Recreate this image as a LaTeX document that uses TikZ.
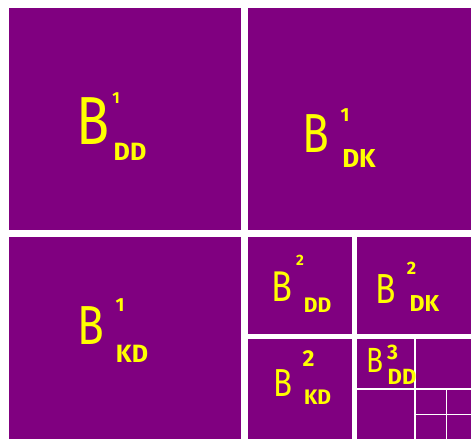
\documentclass[tikz,border=0pt]{standalone}
\usepackage{fontspec}
\usepackage{graphicx}
\setsansfont{Fira Sans}
\definecolor{cellpurple}{HTML}{800080}
\definecolor{chalk}{HTML}{FFFF00}
\newcommand{\fs}[1]{\fontsize{#1}{#1}\selectfont}
\newcommand{\bee}{\scalebox{0.8}[1]{B}}
\begin{document}
\begin{tikzpicture}[x=1pt, y=-1pt, line cap=butt,
	hand/.style={text=chalk, inner sep=0pt, font=\sffamily\fs{#1}},
	tag/.style={text=chalk, inner sep=0pt, font=\sffamily\bfseries\fs{#1}}]
	\useasboundingbox (0,0) rectangle (471,439);
	% cells, then the white cuts of each level
	\fill[cellpurple] (9,8) rectangle (471,439);
	\draw[white,line width=7pt] (244.3,8)--(244.3,439) (9,233.3)--(471,233.3);
	\draw[white,line width=5pt] (354.5,237)--(354.5,439) (248,336.5)--(471,336.5);
	\draw[white,line width=2.5pt] (414.8,339)--(414.8,439) (357,388.8)--(471,388.8);
	\draw[white,line width=1.3pt] (446.3,390)--(446.3,439) (416,414.5)--(471,414.5);
	% level 1
	\node[hand=68] (b1dd) at (93,121.5) {\bee};
	\node[tag=16] (b1dd-sup) at (116,98) {1};
	\node[tag=25] (b1dd-sub) at (130,152) {DD};
	\node[hand=55] (b1dk) at (316,134) {\bee};
	\node[tag=19] (b1dk-sup) at (345,115) {1};
	\node[tag=26] (b1dk-sub) at (359,158) {DK};
	\node[hand=55] (b1kd) at (91,326) {\bee};
	\node[tag=19] (b1kd-sup) at (120,305) {1};
	\node[tag=25] (b1kd-sub) at (132,354) {KD};
	% level 2
	\node[hand=43] (b2dd) at (281.5,287) {\bee};
	\node[tag=15] (b2dd-sup) at (300,260) {2};
	\node[tag=21] (b2dd-sub) at (317.5,305.5) {DD};
	\node[hand=42] (b2dk) at (386,289.5) {\bee};
	\node[tag=18] (b2dk-sup) at (411.5,268.5) {2};
	\node[tag=23] (b2dk-sub) at (424.5,303.5) {DK};
	\node[hand=39] (b2kd) at (282.5,383.5) {\bee};
	\node[tag=23] (b2kd-sup) at (308.5,358.5) {2};
	\node[tag=21] (b2kd-sub) at (317.5,397.5) {KD};
	% level 3
	\node[hand=35] (b3dd) at (375,360) {\bee};
	\node[tag=21] (b3dd-sup) at (392.5,352.5) {3};
	\node[tag=22] (b3dd-sub) at (402,376.5) {DD};
\end{tikzpicture}
\end{document}
